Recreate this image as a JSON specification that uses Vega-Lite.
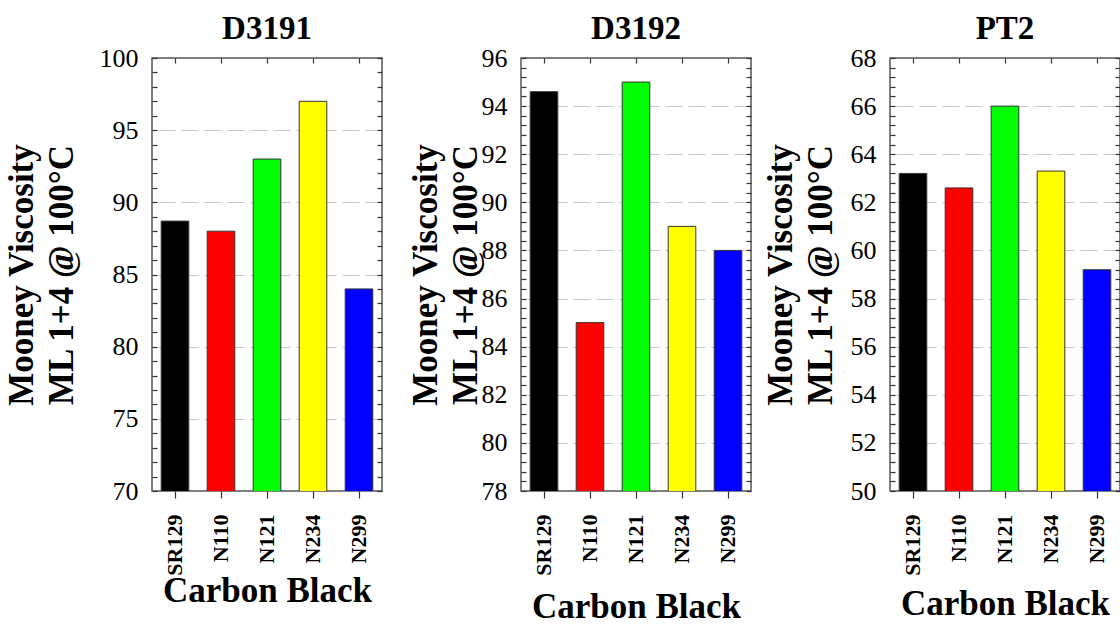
{
  "$schema": "https://vega.github.io/schema/vega-lite/v6.json",
  "background": "white",
  "padding": {"left": 3, "top": 12, "right": 0, "bottom": 0},
  "spacing": 139,
  "bounds": "flush",
  "data": {"values": [
    {"test": "D3191", "cb": "SR129", "value": 88.7},
    {"test": "D3191", "cb": "N110", "value": 88.0},
    {"test": "D3191", "cb": "N121", "value": 93.0},
    {"test": "D3191", "cb": "N234", "value": 97.0},
    {"test": "D3191", "cb": "N299", "value": 84.0},
    {"test": "D3192", "cb": "SR129", "value": 94.6},
    {"test": "D3192", "cb": "N110", "value": 85.0},
    {"test": "D3192", "cb": "N121", "value": 95.0},
    {"test": "D3192", "cb": "N234", "value": 89.0},
    {"test": "D3192", "cb": "N299", "value": 88.0},
    {"test": "PT2", "cb": "SR129", "value": 63.2},
    {"test": "PT2", "cb": "N110", "value": 62.6},
    {"test": "PT2", "cb": "N121", "value": 66.0},
    {"test": "PT2", "cb": "N234", "value": 63.3},
    {"test": "PT2", "cb": "N299", "value": 59.2}
  ]},
  "hconcat": [
    {
      "width": 230, "height": 433,
      "title": {"text": "D3191"},
      "transform": [{"filter": "datum.test === 'D3191'"}],
      "layer": [
        {
          "mark": {"type": "bar", "stroke": "#333", "strokeWidth": 1, "clip": true},
          "encoding": {
            "x": {"field": "cb", "type": "nominal", "sort": ["SR129", "N110", "N121", "N234", "N299"], "scale": {"paddingInner": 0.4, "paddingOuter": 0.2},
              "axis": {"orient": "bottom", "title": "Carbon Black", "labelAngle": -90, "tickSize": 7, "labelPadding": 16, "titlePadding": -2, "domain": false}},
            "y": {"field": "value", "type": "quantitative", "scale": {"domain": [70, 100], "nice": false, "zero": false},
              "axis": {"orient": "left", "values": [70, 75, 80, 85, 90, 95, 100], "ticks": false, "grid": false, "domain": false, "title": ["Mooney Viscosity", "ML 1+4 @ 100°C"], "labelPadding": 14, "titlePadding": 20}},
            "color": {"field": "cb", "type": "nominal", "scale": {"domain": ["SR129", "N110", "N121", "N234", "N299"], "range": ["#000000", "#ff0000", "#00ff00", "#ffff00", "#0000ff"]}, "legend": null}
          }
        },
        {
          "mark": {"type": "bar", "opacity": 0, "clip": true},
          "encoding": {
            "x": {"field": "cb", "type": "nominal", "sort": ["SR129", "N110", "N121", "N234", "N299"], "axis": {"orient": "top", "labels": false, "title": null, "tickSize": -5, "domain": false}},
            "y": {"field": "value", "type": "quantitative", "axis": {"orient": "right", "values": [70,71,72,73,74,75,76,77,78,79,80,81,82,83,84,85,86,87,88,89,90,91,92,93,94,95,96,97,98,99,100], "labels": false, "title": null, "tickSize": -5, "grid": false, "domain": false}}
          }
        },
        {
          "mark": {"type": "bar", "opacity": 0, "clip": true},
          "encoding": {
            "x": {"field": "cb", "type": "nominal", "sort": ["SR129", "N110", "N121", "N234", "N299"], "axis": null},
            "y": {"field": "value", "type": "quantitative", "axis": {"orient": "left", "values": [70,71,72,73,74,75,76,77,78,79,80,81,82,83,84,85,86,87,88,89,90,91,92,93,94,95,96,97,98,99,100], "labels": false, "title": null, "tickSize": -5, "grid": false, "domain": false}}
          }
        },
        {
          "mark": {"type": "bar", "opacity": 0, "clip": true},
          "encoding": {
            "x": {"field": "cb", "type": "nominal", "sort": ["SR129", "N110", "N121", "N234", "N299"], "axis": null},
            "y": {"field": "value", "type": "quantitative", "axis": {"orient": "right", "values": [75, 80, 85, 90, 95], "labels": false, "title": null, "ticks": false, "grid": true, "domain": false}}
          }
        }
      ],
      "resolve": {"axis": {"x": "independent", "y": "independent"}}
    },
    {
      "width": 230, "height": 433,
      "title": {"text": "D3192"},
      "transform": [{"filter": "datum.test === 'D3192'"}],
      "layer": [
        {
          "mark": {"type": "bar", "stroke": "#333", "strokeWidth": 1, "clip": true},
          "encoding": {
            "x": {"field": "cb", "type": "nominal", "sort": ["SR129", "N110", "N121", "N234", "N299"], "scale": {"paddingInner": 0.4, "paddingOuter": 0.2},
              "axis": {"orient": "bottom", "title": "Carbon Black", "labelAngle": -90, "tickSize": 7, "labelPadding": 16, "titlePadding": 14, "domain": false}},
            "y": {"field": "value", "type": "quantitative", "scale": {"domain": [78, 96], "nice": false, "zero": false},
              "axis": {"orient": "left", "values": [78, 80, 82, 84, 86, 88, 90, 92, 94, 96], "ticks": false, "grid": false, "domain": false, "title": ["Mooney Viscosity", "ML 1+4 @ 100°C"], "labelPadding": 14, "titlePadding": -2}},
            "color": {"field": "cb", "type": "nominal", "scale": {"domain": ["SR129", "N110", "N121", "N234", "N299"], "range": ["#000000", "#ff0000", "#00ff00", "#ffff00", "#0000ff"]}, "legend": null}
          }
        },
        {
          "mark": {"type": "bar", "opacity": 0, "clip": true},
          "encoding": {
            "x": {"field": "cb", "type": "nominal", "sort": ["SR129", "N110", "N121", "N234", "N299"], "axis": {"orient": "top", "labels": false, "title": null, "tickSize": -5, "domain": false}},
            "y": {"field": "value", "type": "quantitative", "axis": {"orient": "right", "values": [78,78.4,78.8,79.2,79.6,80,80.4,80.8,81.2,81.6,82,82.4,82.8,83.2,83.6,84,84.4,84.8,85.2,85.6,86,86.4,86.8,87.2,87.6,88,88.4,88.8,89.2,89.6,90,90.4,90.8,91.2,91.6,92,92.4,92.8,93.2,93.6,94,94.4,94.8,95.2,95.6,96], "labels": false, "title": null, "tickSize": -5, "grid": false, "domain": false}}
          }
        },
        {
          "mark": {"type": "bar", "opacity": 0, "clip": true},
          "encoding": {
            "x": {"field": "cb", "type": "nominal", "sort": ["SR129", "N110", "N121", "N234", "N299"], "axis": null},
            "y": {"field": "value", "type": "quantitative", "axis": {"orient": "left", "values": [78,78.4,78.8,79.2,79.6,80,80.4,80.8,81.2,81.6,82,82.4,82.8,83.2,83.6,84,84.4,84.8,85.2,85.6,86,86.4,86.8,87.2,87.6,88,88.4,88.8,89.2,89.6,90,90.4,90.8,91.2,91.6,92,92.4,92.8,93.2,93.6,94,94.4,94.8,95.2,95.6,96], "labels": false, "title": null, "tickSize": -5, "grid": false, "domain": false}}
          }
        },
        {
          "mark": {"type": "bar", "opacity": 0, "clip": true},
          "encoding": {
            "x": {"field": "cb", "type": "nominal", "sort": ["SR129", "N110", "N121", "N234", "N299"], "axis": null},
            "y": {"field": "value", "type": "quantitative", "axis": {"orient": "right", "values": [80, 82, 84, 86, 88, 90, 92, 94], "labels": false, "title": null, "ticks": false, "grid": true, "domain": false}}
          }
        }
      ],
      "resolve": {"axis": {"x": "independent", "y": "independent"}}
    },
    {
      "width": 230, "height": 433,
      "title": {"text": "PT2"},
      "transform": [{"filter": "datum.test === 'PT2'"}],
      "layer": [
        {
          "mark": {"type": "bar", "stroke": "#333", "strokeWidth": 1, "clip": true},
          "encoding": {
            "x": {"field": "cb", "type": "nominal", "sort": ["SR129", "N110", "N121", "N234", "N299"], "scale": {"paddingInner": 0.4, "paddingOuter": 0.2},
              "axis": {"orient": "bottom", "title": "Carbon Black", "labelAngle": -90, "tickSize": 7, "labelPadding": 16, "titlePadding": 11, "domain": false}},
            "y": {"field": "value", "type": "quantitative", "scale": {"domain": [50, 68], "nice": false, "zero": false},
              "axis": {"orient": "left", "values": [50, 52, 54, 56, 58, 60, 62, 64, 66, 68], "ticks": false, "grid": false, "domain": false, "title": ["Mooney Viscosity", "ML 1+4 @ 100°C"], "labelPadding": 14, "titlePadding": 12}},
            "color": {"field": "cb", "type": "nominal", "scale": {"domain": ["SR129", "N110", "N121", "N234", "N299"], "range": ["#000000", "#ff0000", "#00ff00", "#ffff00", "#0000ff"]}, "legend": null}
          }
        },
        {
          "mark": {"type": "bar", "opacity": 0, "clip": true},
          "encoding": {
            "x": {"field": "cb", "type": "nominal", "sort": ["SR129", "N110", "N121", "N234", "N299"], "axis": {"orient": "top", "labels": false, "title": null, "tickSize": -5, "domain": false}},
            "y": {"field": "value", "type": "quantitative", "axis": {"orient": "right", "values": [50,50.4,50.8,51.2,51.6,52,52.4,52.8,53.2,53.6,54,54.4,54.8,55.2,55.6,56,56.4,56.8,57.2,57.6,58,58.4,58.8,59.2,59.6,60,60.4,60.8,61.2,61.6,62,62.4,62.8,63.2,63.6,64,64.4,64.8,65.2,65.6,66,66.4,66.8,67.2,67.6,68], "labels": false, "title": null, "tickSize": -5, "grid": false, "domain": false}}
          }
        },
        {
          "mark": {"type": "bar", "opacity": 0, "clip": true},
          "encoding": {
            "x": {"field": "cb", "type": "nominal", "sort": ["SR129", "N110", "N121", "N234", "N299"], "axis": null},
            "y": {"field": "value", "type": "quantitative", "axis": {"orient": "left", "values": [50,50.4,50.8,51.2,51.6,52,52.4,52.8,53.2,53.6,54,54.4,54.8,55.2,55.6,56,56.4,56.8,57.2,57.6,58,58.4,58.8,59.2,59.6,60,60.4,60.8,61.2,61.6,62,62.4,62.8,63.2,63.6,64,64.4,64.8,65.2,65.6,66,66.4,66.8,67.2,67.6,68], "labels": false, "title": null, "tickSize": -5, "grid": false, "domain": false}}
          }
        },
        {
          "mark": {"type": "bar", "opacity": 0, "clip": true},
          "encoding": {
            "x": {"field": "cb", "type": "nominal", "sort": ["SR129", "N110", "N121", "N234", "N299"], "axis": null},
            "y": {"field": "value", "type": "quantitative", "axis": {"orient": "right", "values": [52, 54, 56, 58, 60, 62, 64, 66], "labels": false, "title": null, "ticks": false, "grid": true, "domain": false}}
          }
        }
      ],
      "resolve": {"axis": {"x": "independent", "y": "independent"}}
    }
  ],
  "config": {
    "font": "Liberation Serif",
    "view": {"stroke": "#555", "strokeWidth": 1.5},
    "axis": {
      "labelFont": "Liberation Serif", "titleFont": "Liberation Serif",
      "labelColor": "black", "titleColor": "black", "tickColor": "#333", "tickWidth": 1.2,
      "labelFontSize": 26, "titleFontSize": 35, "titleFontWeight": "bold",
      "gridColor": "#c8c8c8", "gridDash": [17, 6], "gridWidth": 1.2
    },
    "axisX": {"labelFontSize": 22, "labelFontWeight": "bold", "titleFontSize": 35},
    "axisY": {"titleLineHeight": 40},
    "title": {"font": "Liberation Serif", "fontSize": 33, "fontWeight": "bold", "color": "black", "offset": -1}
  }
}
